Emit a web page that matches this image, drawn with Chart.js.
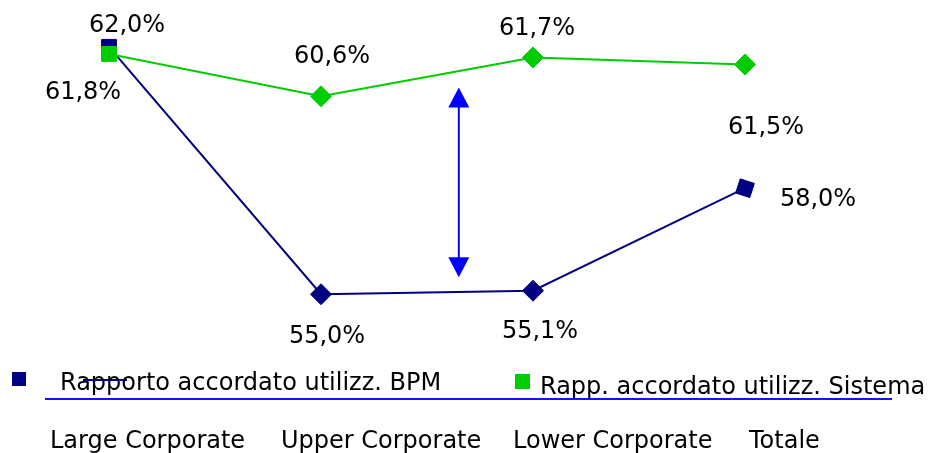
<!DOCTYPE html>
<html>
<head>
<meta charset="utf-8">
<script src="https://cdn.jsdelivr.net/npm/chart.js@4/dist/chart.umd.min.js"></script>
<style>
  html, body { margin: 0; padding: 0; background: #ffffff; }
  canvas { display: block; }
</style>
</head>
<body>
<canvas id="chart" width="930" height="453"></canvas>
<script>
// Categories and series values
const categories = ['Large Corporate', 'Upper Corporate', 'Lower Corporate', 'Totale'];
const bpmValues = [62.0, 55.0, 55.1, 58.0];
const sistemaValues = [61.8, 60.6, 61.7, 61.5];
const seriesNames = ['Rapporto accordato utilizz. BPM', 'Rapp. accordato utilizz. Sistema'];

// Styling
const NAVY = '#000080';
const GREEN = '#00CC00';
const ARROW_BLUE = '#0000FF';
const FONT = '"DejaVu Sans", Verdana, sans-serif';
const FONT_SIZE = 24;

// Value-label offsets (px) from each marker
const bpmLabelOffsets = [[18, -15], [6, 49], [7, 47], [73, 18]];
const sistemaLabelOffsets = [[-26, 45], [11, -33], [4, -22], [21, 69]];

// Double arrow showing the gap between the two series (x in category units, y in values)
const gapArrow = { at: 1.65, from: 60.85, to: 55.48 };

const fmt = v => v.toFixed(1).replace('.', ',') + '%';

const decorations = {
  id: 'decorations',
  afterDatasetsDraw(chart) {
    const ctx = chart.ctx;
    const xs = chart.scales.x, ys = chart.scales.y;

    // gap arrow
    const ax = xs.getPixelForValue(gapArrow.at);
    const ay1 = ys.getPixelForValue(gapArrow.from);
    const ay2 = ys.getPixelForValue(gapArrow.to);
    const hw = 10.5, hh = 20;
    ctx.save();
    ctx.strokeStyle = ARROW_BLUE;
    ctx.fillStyle = ARROW_BLUE;
    ctx.lineWidth = 2;
    ctx.beginPath();
    ctx.moveTo(ax, ay1 + hh - 2);
    ctx.lineTo(ax, ay2 - hh + 2);
    ctx.stroke();
    ctx.beginPath();
    ctx.moveTo(ax, ay1);
    ctx.lineTo(ax + hw, ay1 + hh);
    ctx.lineTo(ax - hw, ay1 + hh);
    ctx.closePath();
    ctx.fill();
    ctx.beginPath();
    ctx.moveTo(ax, ay2);
    ctx.lineTo(ax + hw, ay2 - hh);
    ctx.lineTo(ax - hw, ay2 - hh);
    ctx.closePath();
    ctx.fill();
    ctx.restore();

    // value labels
    ctx.save();
    ctx.font = FONT_SIZE + 'px ' + FONT;
    ctx.fillStyle = '#000000';
    ctx.textAlign = 'center';
    ctx.textBaseline = 'alphabetic';
    const offsets = [bpmLabelOffsets, sistemaLabelOffsets];
    chart.data.datasets.forEach((ds, di) => {
      const meta = chart.getDatasetMeta(di);
      meta.data.forEach((pt, i) => {
        const [dx, dy] = offsets[di][i];
        ctx.fillText(fmt(ds.data[i]), pt.x + dx, pt.y + dy);
      });
    });
    ctx.restore();
  },
  afterDraw(chart) {
    const ctx = chart.ctx;
    ctx.save();
    ctx.font = FONT_SIZE + 'px ' + FONT;
    ctx.textBaseline = 'alphabetic';
    ctx.textAlign = 'left';

    // legend: BPM
    ctx.fillStyle = NAVY;
    ctx.fillRect(12, 372, 14, 14);
    ctx.fillStyle = '#000000';
    ctx.fillText(seriesNames[0], 60, 390);
    ctx.strokeStyle = NAVY;
    ctx.lineWidth = 2;
    ctx.beginPath();
    ctx.moveTo(83, 380);
    ctx.lineTo(127, 380);
    ctx.stroke();

    // legend: Sistema
    ctx.fillStyle = GREEN;
    ctx.fillRect(515, 374, 15, 15);
    ctx.fillStyle = '#000000';
    ctx.fillText(seriesNames[1], 540, 394);

    // baseline rule under the legend
    ctx.strokeStyle = '#1414F0';
    ctx.lineWidth = 2;
    ctx.beginPath();
    ctx.moveTo(45, 399);
    ctx.lineTo(892, 399);
    ctx.stroke();

    // category names
    ctx.fillStyle = '#000000';
    const colX = [50, 281, 513, 749];
    chart.data.labels.forEach((lab, i) => {
      ctx.fillText(lab, colX[i], 448);
    });
    ctx.restore();
  }
};

new Chart(document.getElementById('chart'), {
  type: 'line',
  data: {
    labels: categories,
    datasets: [
      {
        label: seriesNames[0],
        data: bpmValues,
        borderColor: NAVY,
        backgroundColor: NAVY,
        borderWidth: 2,
        pointStyle: 'rect',
        pointRotation: [0, 45, 45, 18],
        pointRadius: 10.5,
        pointBorderWidth: 1,
        pointBorderColor: NAVY,
        pointBackgroundColor: NAVY,
        tension: 0,
        fill: false,
        clip: false,
        order: 1
      },
      {
        label: seriesNames[1],
        data: sistemaValues,
        borderColor: GREEN,
        backgroundColor: GREEN,
        borderWidth: 2,
        pointStyle: 'rect',
        pointRotation: [0, 45, 45, 45],
        pointRadius: 10.5,
        pointBorderWidth: 1,
        pointBorderColor: GREEN,
        pointBackgroundColor: GREEN,
        tension: 0,
        fill: false,
        clip: false,
        order: 0
      }
    ]
  },
  options: {
    responsive: false,
    animation: false,
    devicePixelRatio: 1,
    layout: { padding: { left: 109, right: 185, top: 9.43, bottom: 123.43 } },
    scales: {
      x: { type: 'category', display: false, offset: false },
      y: { display: false, min: 54, max: 63 }
    },
    plugins: {
      legend: { display: false },
      tooltip: { enabled: false },
      title: { display: false }
    }
  },
  plugins: [decorations]
});
</script>
</body>
</html>
